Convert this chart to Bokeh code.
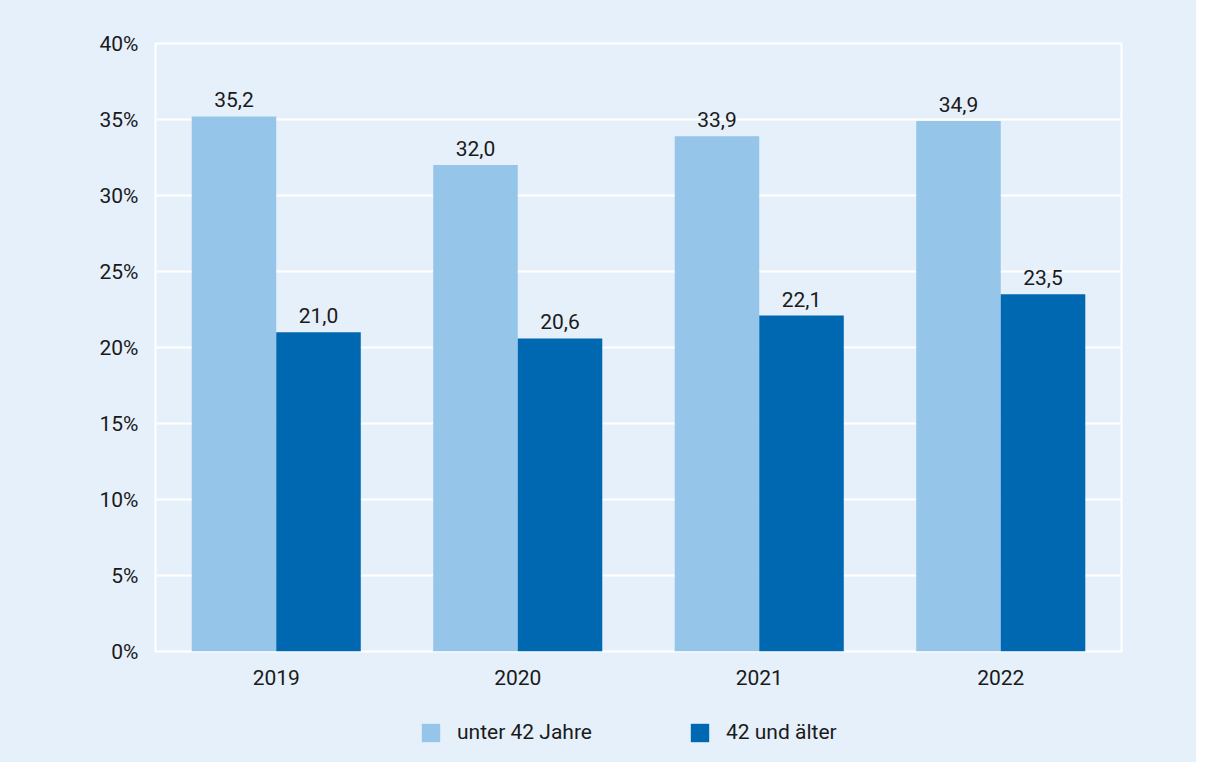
from bokeh.plotting import figure
from bokeh.layouts import column
from bokeh.models import ColumnDataSource, FactorRange, Range1d, FixedTicker, LabelSet, Legend, LegendItem
from bokeh.core.properties import value
from bokeh.transform import dodge
from bokeh.embed import file_html
from bokeh.resources import INLINE

years = ["2019", "2020", "2021", "2022"]
young = [35.2, 32.0, 33.9, 34.9]
old = [21.0, 20.6, 22.1, 23.5]
series_names = ["unter 42 Jahre", "42 und älter"]
y_ticks = [0, 5, 10, 15, 20, 25, 30, 35, 40]

FONT = "Roboto"
FS = "21px"
BG = "#E6F0FA"
LIGHT = "#96C5EA"
DARK = "#0067B1"
TXT = "#1a1a1a"

src = ColumnDataSource(dict(
    year=years,
    young=young,
    old=old,
    young_lbl=[f"{v:.1f}".replace(".", ",") for v in young],
    old_lbl=[f"{v:.1f}".replace(".", ",") for v in old],
))

p = figure(x_range=FactorRange(*years, range_padding=0), y_range=Range1d(0, 40),
           frame_width=966, frame_height=608,
           min_border_left=155, min_border_right=75, min_border_top=43, min_border_bottom=46,
           output_backend="svg", toolbar_location=None,
           background_fill_color=BG, border_fill_color=BG)

p.outline_line_color = "white"
p.outline_line_width = 2
p.xgrid.grid_line_color = None
p.ygrid.grid_line_color = "white"
p.ygrid.grid_line_width = 2

p.yaxis.ticker = FixedTicker(ticks=y_ticks)
p.yaxis.major_label_overrides = {t: f"{t}%" for t in y_ticks}
for ax in (p.xaxis, p.yaxis):
    ax.axis_line_color = None
    ax.major_tick_line_color = None
    ax.minor_tick_line_color = None
    ax.major_tick_out = 0
    ax.major_tick_in = 0
    ax.major_label_text_font = FONT
    ax.major_label_text_font_size = FS
    ax.major_label_text_color = TXT
p.yaxis.major_label_standoff = 17
p.xaxis.major_label_standoff = 18

p.vbar(x=dodge("year", -0.175, range=p.x_range), top="young", width=0.35,
       source=src, fill_color=LIGHT, line_color=None)
p.vbar(x=dodge("year", 0.175, range=p.x_range), top="old", width=0.35,
       source=src, fill_color=DARK, line_color=None)

for col, off in (("young", -0.175), ("old", 0.175)):
    p.add_layout(LabelSet(x=dodge("year", off, range=p.x_range), y=col, text=col + "_lbl",
                          source=src, y_offset=9, text_align="center", text_baseline="alphabetic",
                          text_font=value(FONT), text_font_size=value(FS), text_color=TXT))

# legend strip below the chart (frame aligned with the main chart)
lg = figure(x_range=FactorRange(*years, range_padding=0), y_range=Range1d(100, 101),
            frame_width=966, frame_height=65,
            min_border_left=155, min_border_right=75, min_border_top=0, min_border_bottom=0,
            x_axis_location=None, y_axis_location=None,
            output_backend="svg", toolbar_location=None,
            background_fill_color=BG, border_fill_color=BG)
lg.outline_line_color = None
lg.grid.grid_line_color = None
g1 = lg.vbar(x="year", top="young", width=0.35, source=src, fill_color=LIGHT, line_color=None,
             visible=False)
g2 = lg.vbar(x="year", top="old", width=0.35, source=src, fill_color=DARK, line_color=None,
             visible=False)

legend = Legend(items=[LegendItem(label=series_names[0], renderers=[g1]),
                       LegendItem(label=series_names[1], renderers=[g2])],
                orientation="horizontal", location=(264, 18),
                glyph_width=23, glyph_height=23, label_standoff=15, spacing=96,
                label_text_font=FONT, label_text_font_size=FS, label_text_color=TXT,
                inactive_fill_alpha=0,
                background_fill_alpha=0, border_line_color=None, padding=0, margin=0)
lg.add_layout(legend)

layout = column(p, lg, spacing=0, styles={"background-color": BG})
open("out.html", "w").write(file_html(layout, INLINE))
